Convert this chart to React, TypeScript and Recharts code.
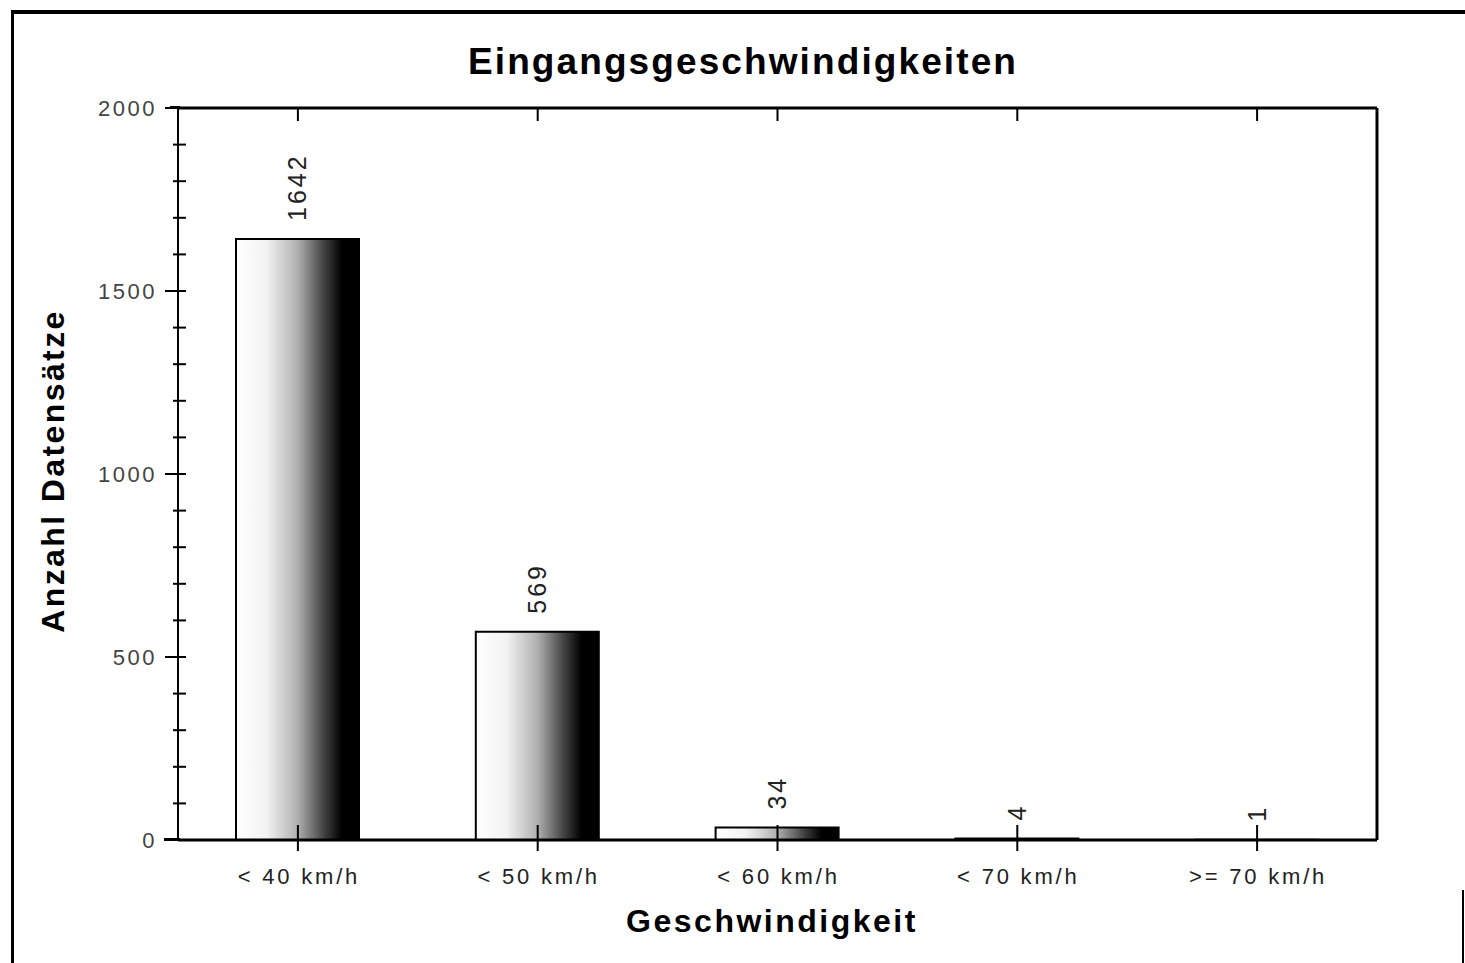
import React from 'react';
import { BarChart, Bar, XAxis, YAxis, LabelList } from 'recharts';

const categories = ['< 40 km/h', '< 50 km/h', '< 60 km/h', '< 70 km/h', '>= 70 km/h'];
const counts = [1642, 569, 34, 4, 1];
const yTicks = [0, 100, 200, 300, 400, 500, 600, 700, 800, 900, 1000, 1100, 1200, 1300, 1400, 1500, 1600, 1700, 1800, 1900, 2000];
const yMajorTicks = [0, 500, 1000, 1500, 2000];
const chartTitle = 'Eingangsgeschwindigkeiten';
const xTitle = 'Geschwindigkeit';
const yTitle = 'Anzahl Datensätze';

const data = categories.map((c, i) => ({ name: c, value: counts[i] }));

const FONT = '"Liberation Sans", Arial, sans-serif';

const LeftTick = (props: any) => {
  const { x, y, payload } = props;
  const major = yMajorTicks.includes(payload.value);
  return (
    <g>
      <line x1={major ? x - 13 : x - 5} x2={x + 8} y1={y} y2={y} stroke="#000" strokeWidth={2} />
      {major && (
        <text x={x - 21} y={y} textAnchor="end" dominantBaseline="central" fontFamily={FONT} fontSize={22} letterSpacing={2.5} fill="#444">
          {payload.value}
        </text>
      )}
    </g>
  );
};

const RightTick = (props: any) => {
  const { x, y, payload } = props;
  const major = yMajorTicks.includes(payload.value);
  return <line x1={x} x2={x - (major ? 12 : 4)} y1={y} y2={y} stroke="#000" strokeWidth={2} />;
};

const BottomTick = (props: any) => {
  const { x, y, payload } = props;
  return (
    <g>
      <line x1={x} x2={x} y1={y - 15} y2={y + 11} stroke="#000" strokeWidth={2} />
      <text x={x + 1} y={y + 36} textAnchor="middle" dominantBaseline="central" fontFamily={FONT} fontSize={22} letterSpacing={2.8} fill="#222">
        {payload.value}
      </text>
    </g>
  );
};

const TopTick = (props: any) => {
  const { x, y } = props;
  return <line x1={x} x2={x} y1={y} y2={y + 13} stroke="#000" strokeWidth={2} />;
};

const BarValueLabel = (props: any) => {
  const { x, y, width, value } = props;
  const cx = Number(x) + Number(width) / 2;
  const cy = Number(y) - 18;
  return (
    <text
      x={cx}
      y={cy}
      transform={`rotate(-90, ${cx}, ${cy})`}
      textAnchor="start"
      dominantBaseline="central"
      fontFamily={FONT}
      fontSize={25}
      letterSpacing={3}
      fill="#222"
    >
      {value}
    </text>
  );
};

export default function App() {
  return (
    <div style={{ position: 'absolute', left: 0, top: 0, width: 1465, height: 963, background: '#fff', overflow: 'hidden' }}>
      <div style={{ position: 'absolute', left: 11, top: 10, width: 1454, height: 953, borderTop: '4px solid #000', borderLeft: '3px solid #000', boxSizing: 'border-box' }} />
      <div style={{ position: 'absolute', left: 1462, top: 890, width: 2, height: 73, background: '#000' }} />
      <div style={{ position: 'absolute', left: 164, top: 838, width: 16, height: 3, background: '#000' }} />
      <div style={{ position: 'absolute', left: 170, top: 106, width: 10, height: 3, background: '#000' }} />
      <BarChart
        width={1465}
        height={963}
        data={data}
        margin={{ top: 107, right: 0, bottom: 0, left: 0 }}
        style={{ position: 'absolute', left: 0, top: 0 }}
      >
        <defs>
          <linearGradient id="barGrad" x1="0" y1="0" x2="1" y2="0">
            <stop offset="0%" stopColor="#ffffff" />
            <stop offset="25%" stopColor="#f2f2f2" />
            <stop offset="50%" stopColor="#b0b0b0" />
            <stop offset="72%" stopColor="#404040" />
            <stop offset="86%" stopColor="#000000" />
            <stop offset="100%" stopColor="#000000" />
          </linearGradient>
        </defs>
        <XAxis
          xAxisId="top"
          dataKey="name"
          orientation="top"
          height={1}
          tickSize={0}
          tickMargin={0}
          interval={0}
          axisLine={{ stroke: '#000', strokeWidth: 3 }}
          tickLine={false}
          tick={<TopTick />}
        />
        <XAxis
          xAxisId="bottom"
          dataKey="name"
          orientation="bottom"
          height={123}
          tickSize={0}
          tickMargin={0}
          interval={0}
          axisLine={{ stroke: '#000', strokeWidth: 3 }}
          tickLine={false}
          tick={<BottomTick />}
        />
        <YAxis
          yAxisId="left"
          orientation="left"
          width={178}
          domain={[0, 2000]}
          ticks={yTicks}
          interval={0}
          tickSize={0}
          tickMargin={0}
          axisLine={{ stroke: '#000', strokeWidth: 2 }}
          tickLine={false}
          tick={<LeftTick />}
        />
        <YAxis
          yAxisId="right"
          orientation="right"
          width={88}
          domain={[0, 2000]}
          ticks={yTicks}
          interval={0}
          tickSize={0}
          tickMargin={0}
          axisLine={{ stroke: '#000', strokeWidth: 3 }}
          tickLine={false}
          tick={<RightTick />}
        />
        <Bar
          xAxisId="bottom"
          yAxisId="left"
          dataKey="value"
          barSize={123}
          fill="url(#barGrad)"
          stroke="#000"
          strokeWidth={2}
          isAnimationActive={false}
        >
          <LabelList dataKey="value" content={<BarValueLabel />} />
        </Bar>
      </BarChart>
      <div style={{ position: 'absolute', left: 743, top: 61, transform: 'translate(-50%, -50%)', fontFamily: FONT, fontWeight: 'bold', fontSize: 37, letterSpacing: 2.1, lineHeight: 1, whiteSpace: 'nowrap', color: '#000' }}>
        {chartTitle}
      </div>
      <div style={{ position: 'absolute', left: 772, top: 921, transform: 'translate(-50%, -50%)', fontFamily: FONT, fontWeight: 'bold', fontSize: 32, letterSpacing: 2.5, lineHeight: 1, whiteSpace: 'nowrap', color: '#000' }}>
        {xTitle}
      </div>
      <div style={{ position: 'absolute', left: 53, top: 471, transform: 'translate(-50%, -50%) rotate(-90deg)', fontFamily: FONT, fontWeight: 'bold', fontSize: 32, letterSpacing: 2.4, lineHeight: 1, whiteSpace: 'nowrap', color: '#000' }}>
        {yTitle}
      </div>
    </div>
  );
}
